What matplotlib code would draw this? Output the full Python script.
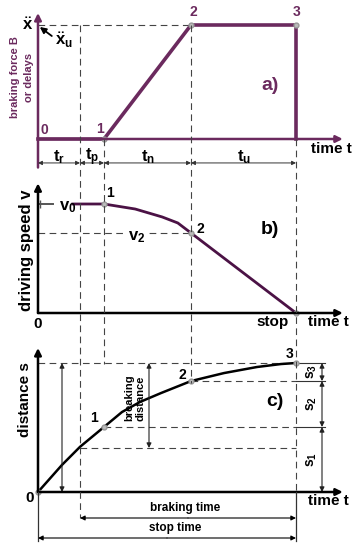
import matplotlib
matplotlib.use('Agg')
import matplotlib.pyplot as plt

plt.rcParams['font.family'] = ['Liberation Sans', 'DejaVu Sans']
plt.rcParams['font.weight'] = 'bold'
plt.rcParams['mathtext.fontset'] = 'custom'
plt.rcParams['mathtext.rm'] = 'Liberation Sans:bold'
plt.rcParams['mathtext.it'] = 'Liberation Sans:bold'
plt.rcParams['mathtext.bf'] = 'Liberation Sans:bold'

## Data (time in s, values normalised)
phase_labels = ['$t_r$', '$t_p$', '$t_n$', '$t_u$']
t_marks = [0.0, 0.7, 1.1, 2.55, 4.3]   # 0, end t_r, point 1, point 2, point 3 / stop

force_t = [0.0, 1.1, 2.55, 4.3, 4.3]
force_b = [0.0, 0.0, 1.0, 1.0, 0.0]

speed_t = [0.58, 1.1, 1.62, 2.07, 2.33, 2.55, 4.3]
speed_v = [1.0, 1.0, 0.954, 0.881, 0.826, 0.734, 0.0]

dist_t = [0.0, 0.4, 0.7, 1.1, 1.4, 1.7, 2.05, 2.55, 3.1, 3.65, 4.05, 4.3]
dist_s = [0.0, 0.21, 0.35, 0.504, 0.62, 0.698, 0.767, 0.86, 0.922, 0.969, 0.992, 1.0]

s_levels = [0.0, 0.504, 0.86, 1.0]      # s1 | s2 | s3 boundaries
s_labels = ['$s_1$', '$s_2$', '$s_3$']
s_react = 0.341                          # distance covered at end of t_r
v2 = 0.734

W, H = 361, 550
T0_PX, PX_PER_S = 38, 60
PURPLE = '#6b2a5e'
DARKPURPLE = '#4b1245'
DASH = dict(ls=(0, (6, 4)), color='#444444', lw=0.8)

fig = plt.figure(figsize=(W / 100, H / 100), dpi=100)
XLIM = (-T0_PX / PX_PER_S, (W - T0_PX) / PX_PER_S)


def panel(top, bottom, zero_px, one_px):
    ax = fig.add_axes([0, 1 - bottom / H, 1, (bottom - top) / H])
    ax.set_xlim(*XLIM)
    span = zero_px - one_px
    ax.set_ylim((zero_px - bottom) / span, (zero_px - top) / span)
    ax.axis('off')
    return ax


def arrow(ax, x0, y0, x1, y1, style='-|>', color='black', lw=1.0, ms=8):
    ax.annotate('', xy=(x1, y1), xytext=(x0, y0),
                arrowprops=dict(arrowstyle=style, color=color, lw=lw,
                                mutation_scale=ms, shrinkA=0, shrinkB=0))


def label(x, y, s, **kw):
    kw.setdefault('ha', 'center')
    kw.setdefault('va', 'center')
    fig.text(x / W, 1 - y / H, s, **kw)


ax_a = panel(0, 170, 139, 25)
ax_b = panel(170, 335, 313, 204)
ax_c = panel(335, 550, 492, 363)
guide = fig.add_axes([0, 0, 1, 1])
guide.set_xlim(*XLIM)
guide.set_ylim(H, 0)
guide.axis('off')

# vertical guide lines across the panels
guide.plot([t_marks[1]] * 2, [25, 518], **DASH)
guide.plot([t_marks[2]] * 2, [139, 364], **DASH)
guide.plot([t_marks[3]] * 2, [25, 383], **DASH)
guide.plot([t_marks[4]] * 2, [139, 492], **DASH)
guide.plot([t_marks[0]] * 2, [492, 541], color='#333', lw=0.9)
guide.plot([t_marks[4]] * 2, [492, 541], color='#333', lw=0.9)
arrow(guide, (t_marks[1] + t_marks[4]) / 2, 518, t_marks[1], 518, ms=7, lw=0.8)
arrow(guide, (t_marks[1] + t_marks[4]) / 2, 518, t_marks[4], 518, ms=7, lw=0.8)
arrow(guide, (t_marks[0] + t_marks[4]) / 2, 538, t_marks[0], 538, ms=7, lw=0.8)
arrow(guide, (t_marks[0] + t_marks[4]) / 2, 538, t_marks[4], 538, ms=7, lw=0.8)

# ---- a) braking force
ax_a.plot([0, t_marks[3]], [1, 1], **DASH)
arrow(ax_a, 0, -0.25, 0, 1.105, color=PURPLE, lw=1.8, ms=10)
arrow(ax_a, 0, 0, 5.08, 0, color=PURPLE, lw=1.8, ms=10)
ax_a.plot(force_t, force_b, color=PURPLE, lw=2.6, solid_joinstyle='miter')
ax_a.plot(force_t[1:4], force_b[1:4], 'o', ms=3.5, color='#bbbbbb', mec='#999999')
for i, name in enumerate(phase_labels):
    arrow(ax_a, t_marks[i], -0.21, t_marks[i + 1], -0.21, style='<|-|>',
          color='#333', lw=0.7, ms=6)
    ax_a.text((t_marks[i] + t_marks[i + 1]) / 2, -0.16, name, ha='center',
              va='center', fontsize=12)

label(22, 77, 'braking force B\nor delays', rotation=90, color=PURPLE,
      fontsize=8, linespacing=1.5)
label(28, 25, r'$\ddot{x}$', fontsize=12)
label(64, 40, r'$\ddot{x}_u$', fontsize=12)
guide.annotate('', xy=(0.03, 27), xytext=(0.23, 36),
               arrowprops=dict(arrowstyle='-|>', color='black', lw=1.3,
                               mutation_scale=9, shrinkA=0, shrinkB=0))
label(44, 130, '0', color=PURPLE, fontsize=10)
label(100, 129, '1', color=PURPLE, fontsize=10)
label(193, 12, '2', color=PURPLE, fontsize=10)
label(297, 12, '3', color=PURPLE, fontsize=10)
label(270, 85, 'a)', color=PURPLE, fontsize=14)
label(331, 149, 'time t', fontsize=11)

# ---- b) driving speed
ax_b.plot([0, t_marks[3]], [v2, v2], **DASH)
arrow(ax_b, 0, 0, 0, 1.19, lw=1.8, ms=10)
arrow(ax_b, 0, 0, 5.08, 0, lw=1.8, ms=10)
ax_b.plot([0, 0.25], [1, 1], color='#555', lw=1.4)
ax_b.plot([0.03], [1], marker='|', ms=6, color='#555')
ax_b.plot(speed_t, speed_v, color=DARKPURPLE, lw=2)
ax_b.plot([speed_t[1], speed_t[5], speed_t[6]], [speed_v[1], speed_v[5], speed_v[6]],
          'o', ms=3.5, color='#bbbbbb', mec='#999999')

label(27, 250, 'driving speed v', rotation=90, fontsize=12)
label(68, 207, '$v_0$', fontsize=12)
label(137, 237, '$v_2$', fontsize=12,
      bbox=dict(fc='white', ec='none', pad=1))
label(110, 193, '1', fontsize=10)
label(200, 229, '2', fontsize=10)
label(270, 229, 'b)', fontsize=14)
label(38, 324, '0', fontsize=11)
label(273, 322, 'stop', fontsize=11)
label(328, 322, 'time t', fontsize=11)

# ---- c) distance
right_px = (325 - T0_PX) / PX_PER_S
dim_x = (322 - T0_PX) / PX_PER_S
ax_c.plot([0, t_marks[4]], [s_levels[3]] * 2, **DASH)
ax_c.plot([t_marks[3], t_marks[4]], [s_levels[2]] * 2, **DASH)
ax_c.plot([t_marks[2], t_marks[4]], [s_levels[1]] * 2, **DASH)
ax_c.plot([t_marks[1], t_marks[4]], [s_react] * 2, **DASH)
for lev in s_levels[1:]:
    ax_c.plot([t_marks[4], right_px], [lev, lev], color='#333', lw=0.8)
for i, name in enumerate(s_labels):
    arrow(ax_c, dim_x, s_levels[i], dim_x, s_levels[i + 1], style='<|-|>',
          color='#222', lw=0.8, ms=7)
    ax_c.text((312 - T0_PX) / PX_PER_S, (s_levels[i] + s_levels[i + 1]) / 2, name,
              rotation=90, ha='center', va='center', fontsize=10)

arrow(ax_c, 0.4, 0, 0.4, 1, style='<|-|>', color='#222', lw=0.8, ms=7)
arrow(ax_c, 1.85, s_react, 1.85, 1, style='<|-|>', color='#222', lw=0.8, ms=7)

arrow(ax_c, 0, 0, 0, 1.116, lw=1.8, ms=10)
arrow(ax_c, 0, 0, 5.08, 0, lw=1.8, ms=10)
ax_c.plot(dist_t, dist_s, color='black', lw=1.8)
ax_c.plot([dist_t[0], dist_t[3], dist_t[7], dist_t[11]],
          [dist_s[0], dist_s[3], dist_s[7], dist_s[11]],
          'o', ms=3.5, color='#bbbbbb', mec='#999999')

label(25, 400, 'distance s', rotation=90, fontsize=11)
label(135, 398, 'breaking\ndistance', rotation=90, fontsize=8, linespacing=1.2)
label(94, 418, '1', fontsize=10)
label(182, 375, '2', fontsize=10)
label(290, 354, '3', fontsize=10)
label(275, 402, 'c)', fontsize=14)
label(30, 498, '0', fontsize=11)
label(328, 501, 'time t', fontsize=11)
label(185, 508, 'braking time', fontsize=8.5)
label(175, 528, 'stop time', fontsize=8.5)

fig.savefig('out.png', dpi=100, facecolor='white')
